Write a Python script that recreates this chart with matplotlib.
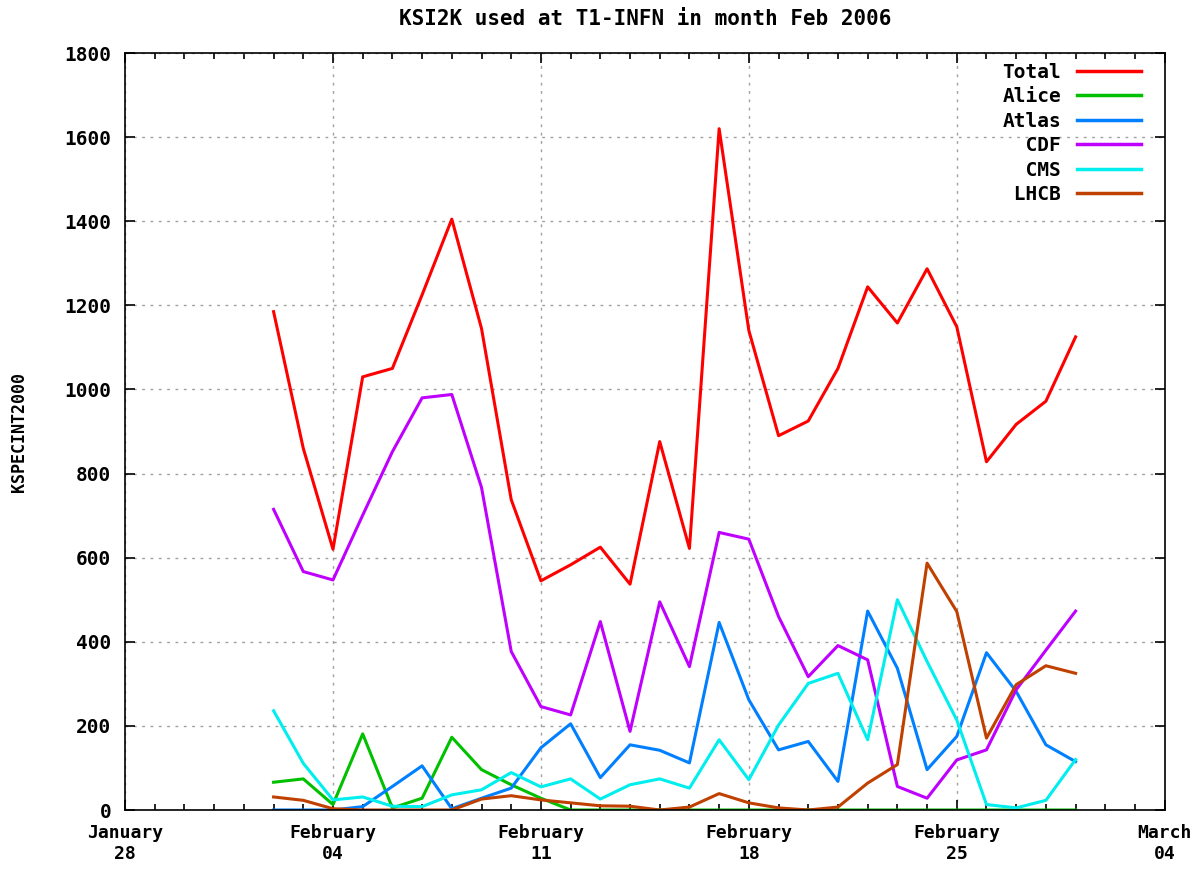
import numpy as np
import pandas as pd
import matplotlib
matplotlib.use("Agg")
import matplotlib.pyplot as plt
import matplotlib.dates as mdates

# daily values Feb 2 .. Mar 1 2006
days = pd.date_range("2006-02-02", "2006-03-01", freq="D")

total = [1185, 860, 620, 1030, 1050, 1225, 1405, 1145, 738, 545,
         583, 625, 537, 876, 622, 1620, 1140, 890, 925, 1050,
         1244, 1158, 1287, 1149, 828, 917, 972, 1125]
alice = [66, 74, 13, 181, 5, 28, 173, 96, 60, 28,
         0, 0, 0, 0, 0, 0, 0, 0, 0, 0,
         0, 0, 0, 0, 0, 0, 0, 0]
atlas = [0, 0, 0, 8, 56, 105, 3, 28, 52, 148,
         205, 77, 155, 142, 112, 446, 262, 143, 163, 68,
         473, 337, 96, 175, 374, 282, 155, 115]
cdf = [715, 567, 547, 701, 852, 980, 988, 767, 377, 246,
       226, 448, 187, 495, 341, 660, 644, 460, 317, 391,
       357, 56, 28, 119, 143, 286, 380, 473]
cms = [236, 111, 24, 31, 9, 8, 36, 48, 89, 55,
       74, 26, 60, 74, 52, 167, 72, 202, 301, 325,
       167, 500, 353, 214, 13, 5, 23, 120]
lhcb = [31, 23, 3, 0, 0, 0, 0, 26, 34, 24,
        17, 10, 9, 0, 7, 39, 17, 5, 0, 7,
        64, 108, 587, 472, 171, 298, 343, 325]

names = ["Total", "Alice", "Atlas", "  CDF", "  CMS", " LHCB"]
series = [total, alice, atlas, cdf, cms, lhcb]
colors = ["#ff0000", "#00c000", "#0080ff", "#c000ff", "#00eeee", "#c04000"]

plt.rcParams["font.family"] = "DejaVu Sans Mono"
plt.rcParams["font.weight"] = "bold"
plt.rcParams["axes.titleweight"] = "bold"
plt.rcParams["axes.labelweight"] = "bold"

fig = plt.figure(figsize=(11.99, 8.72), dpi=100)
ax = fig.add_axes([0.1043, 0.0711, 0.8671, 0.8681])

for name, vals, c in zip(names, series, colors):
    ax.plot(days, vals, color=c, lw=2.2, label=name)

ax.set_xlim(pd.Timestamp("2006-01-28"), pd.Timestamp("2006-03-04"))
ax.set_ylim(0, 1800)
ax.set_yticks(np.arange(0, 1801, 200))
ax.set_xticks(pd.date_range("2006-01-28", "2006-03-04", freq="7D"))
ax.xaxis.set_major_formatter(mdates.DateFormatter("%B\n%d"))
ax.xaxis.set_minor_locator(mdates.DayLocator())

ax.grid(True, which="major", color="#a0a0a0", linestyle=(0, (2, 4)), lw=1)
ax.tick_params(which="both", direction="in", top=True, right=True,
               labelsize=13, width=1.2)
ax.tick_params(axis="y", labelsize=14)
ax.tick_params(which="major", length=7, pad=10)
ax.tick_params(which="minor", length=4)
for sp in ax.spines.values():
    sp.set_linewidth(1.2)

ax.set_ylabel("KSPECINT2000", fontsize=12, labelpad=26)
ax.set_title("KSI2K used at T1-INFN in month Feb 2006", fontsize=15, pad=20)

leg = ax.legend(loc="upper right", frameon=False, markerfirst=False,
                fontsize=14, handlelength=3.3, labelspacing=0.28,
                handletextpad=0.8, borderaxespad=0.3,
                bbox_to_anchor=(0.99, 1.005))
for line in leg.get_lines():
    line.set_linewidth(2.5)

fig.savefig("out.png", dpi=100)
